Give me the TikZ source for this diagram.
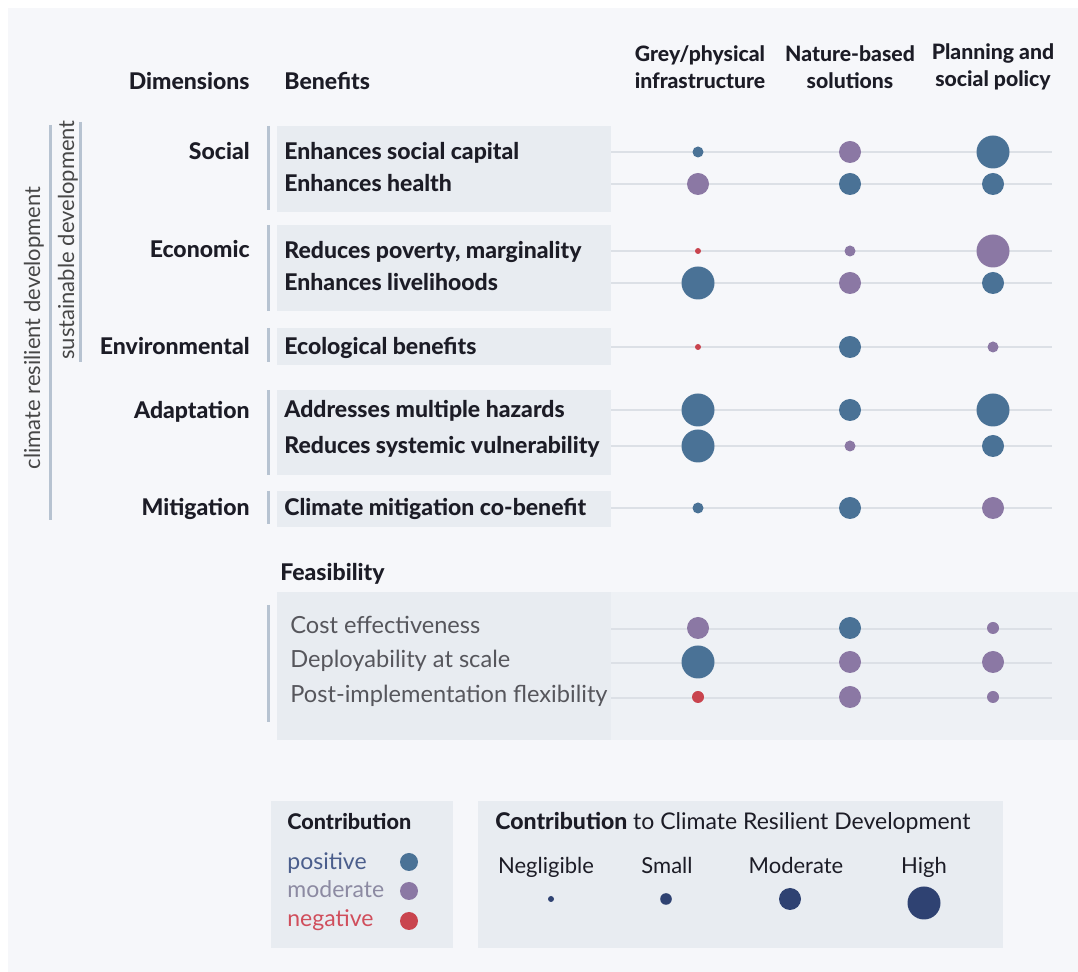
\documentclass[tikz,border=0pt]{standalone}
\usepackage{fontspec}
\setmainfont{Lato}[BoldFont={Lato Heavy}]
\usetikzlibrary{positioning}
\definecolor{bgpage}{HTML}{F6F7FA}
\definecolor{panel}{HTML}{E8ECF1}
\definecolor{panelb}{HTML}{EEF1F5}
\definecolor{barcol}{HTML}{B7C3D1}
\definecolor{gridcol}{HTML}{DCE0E6}
\definecolor{cpos}{HTML}{4A7296}
\definecolor{cmod}{HTML}{8B78A4}
\definecolor{cneg}{HTML}{C9444E}
\definecolor{navy}{HTML}{2F4272}
\definecolor{txt}{HTML}{1C1C26}
\definecolor{feastxt}{HTML}{56565C}
\definecolor{postxt}{HTML}{4B5E8C}
\definecolor{modtxt}{HTML}{8C8AA2}
\definecolor{negtxt}{HTML}{D04E5C}

\begin{document}
\begin{tikzpicture}[x=0.5pt, y=-0.5pt,
   head/.style={font=\fontsize{11.5}{13}\selectfont\bfseries, text=txt, inner sep=0pt},
   dim/.style={head, anchor=base east},
   ben/.style={head, anchor=base west},
   feasitem/.style={font=\fontsize{11.8}{13}\selectfont, text=feastxt, inner sep=0pt, anchor=base west},
   col/.style={head, align=center, font=\fontsize{10.6}{13.5}\selectfont\bfseries},
   vlab/.style={font=\fontsize{11}{13}\selectfont, text=black!72, rotate=90, inner sep=0pt},
   leg/.style={font=\fontsize{11.5}{13}\selectfont, inner sep=0pt},
   bar/.style={barcol, line width=1.5pt},
   gridline/.style={gridcol, line width=0.6pt}]
   \useasboundingbox (0,0) rectangle (1078,972);
   \fill[white] (0,0) rectangle (1078,972);
   \fill[bgpage] (8,8) rectangle (1078,972);

   % panels behind the benefits
   \foreach \top/\bot in {126/212, 225/311, 328/365, 390/475, 491/527}
      \fill[panel] (277,\top) rectangle (611,\bot);
   \fill[panelb] (611,592) rectangle (1078,740);
   \fill[panel] (277,592) rectangle (611,740);

   % group bars
   \foreach \top/\bot in {126/210, 225/311, 328/362, 390/475, 491/524, 605/722}
      \draw[bar] (268,\top) -- (268,\bot);
   \draw[bar] (50,125) -- (50,520);
   \draw[bar] (80,122) -- (80,362);
   \node[vlab] (crd) at (34,328) {climate resilient development};
   \node[vlab] (sd) at (68,240) {sustainable development};

   % headings
   \node[dim] (dimhead) at (250,90) {Dimensions};
   \node[ben] (benhead) at (284,90) {Benefits};
   \node[col] (grey) at (700,67) {Grey/physical\\infrastructure};
   \node[col] (nature) at (850,67) {Nature-based\\solutions};
   \node[col] (planning) at (993,67) {Planning and\\social policy};

   \node[dim] (social) at (250,160) {Social};
   \node[dim] (economic) at (250,258) {Economic};
   \node[dim] (environmental) at (250,355) {Environmental};
   \node[dim] (adaptation) at (250,419) {Adaptation};
   \node[dim] (mitigation) at (250,516) {Mitigation};

   % benefit rows: y / text / three dots (colour, radius)
   \foreach \y/\t/\ca/\ra/\cb/\rb/\cc/\rc [count=\i] in {
      152/Enhances social capital/cpos/5.5/cmod/11/cpos/16.5,
      184/Enhances health/cmod/11/cpos/11/cpos/11,
      251/{Reduces poverty, marginality}/cneg/3/cmod/5.5/cmod/16.5,
      283/Enhances livelihoods/cpos/16.5/cmod/11/cpos/11,
      347/Ecological benefits/cneg/3/cpos/11/cmod/5.5,
      410/Addresses multiple hazards/cpos/16.5/cpos/11/cpos/16.5,
      446/Reduces systemic vulnerability/cpos/16.5/cmod/5.5/cpos/11,
      508/Climate mitigation co-benefit/cpos/5.5/cpos/11/cmod/11}{
      \node[ben] (b\i) at (284,\y+8) {\t};
      \draw[gridline] (611,\y) -- (1052,\y);
      \fill[\ca] (698,\y) circle[radius=\ra];
      \fill[\cb] (850,\y) circle[radius=\rb];
      \fill[\cc] (993,\y) circle[radius=\rc];
   }

   % feasibility
   \node[ben] (feashead) at (280,581) {Feasibility};
   \foreach \y/\t/\ca/\ra/\cb/\rb/\cc/\rc [count=\i] in {
      629/Cost effectiveness/cmod/11/cpos/11/cmod/6,
      663/Deployability at scale/cpos/16.5/cmod/11/cmod/11,
      698/Post-implementation flexibility/cneg/6/cmod/11/cmod/6}{
      \node[feasitem] (f\i) at (290,\y+5) {\t};
      \draw[gridline] (611,\y) -- (1052,\y);
      \fill[\ca] (698,\y-1) circle[radius=\ra];
      \fill[\cb] (850,\y-1) circle[radius=\rb];
      \fill[\cc] (993,\y-1) circle[radius=\rc];
   }

   % legend: colour
   \fill[panel] (271,801) rectangle (453,948);
   \node[leg, font=\fontsize{10.8}{13}\selectfont\bfseries, text=txt, anchor=base west] (colhead) at (287,830) {Contribution};
   \node[leg, text=postxt, anchor=base west] (positive) at (287,870) {positive};
   \node[leg, text=modtxt, below=14pt of positive.base west, anchor=base west] (moderate) {moderate};
   \node[leg, text=negtxt, below=14.5pt of moderate.base west, anchor=base west] (negative) {negative};
   \fill[cpos] (409,862) circle[radius=9];
   \fill[cmod] (409,891) circle[radius=9];
   \fill[cneg] (409,921) circle[radius=9];

   % legend: size
   \fill[panel] (478,801) rectangle (1003,948);
   \node[leg, text=txt, anchor=base west] (sizehead) at (495,830) {\bfseries Contribution\mdseries\ to Climate Resilient Development};
   \foreach \x/\t [count=\i] in {546/Negligible, 667/Small, 796/Moderate, 924/High}{
      \node[leg, text=txt, font=\fontsize{11}{13}\selectfont, anchor=base] (s\i) at (\x,874) {\t};
   }
   \fill[navy] (551,899) circle[radius=3];
   \fill[navy] (666,899) circle[radius=5.8];
   \fill[navy] (790,899) circle[radius=11];
   \fill[navy] (924,903) circle[radius=16.5];
\end{tikzpicture}
\end{document}
